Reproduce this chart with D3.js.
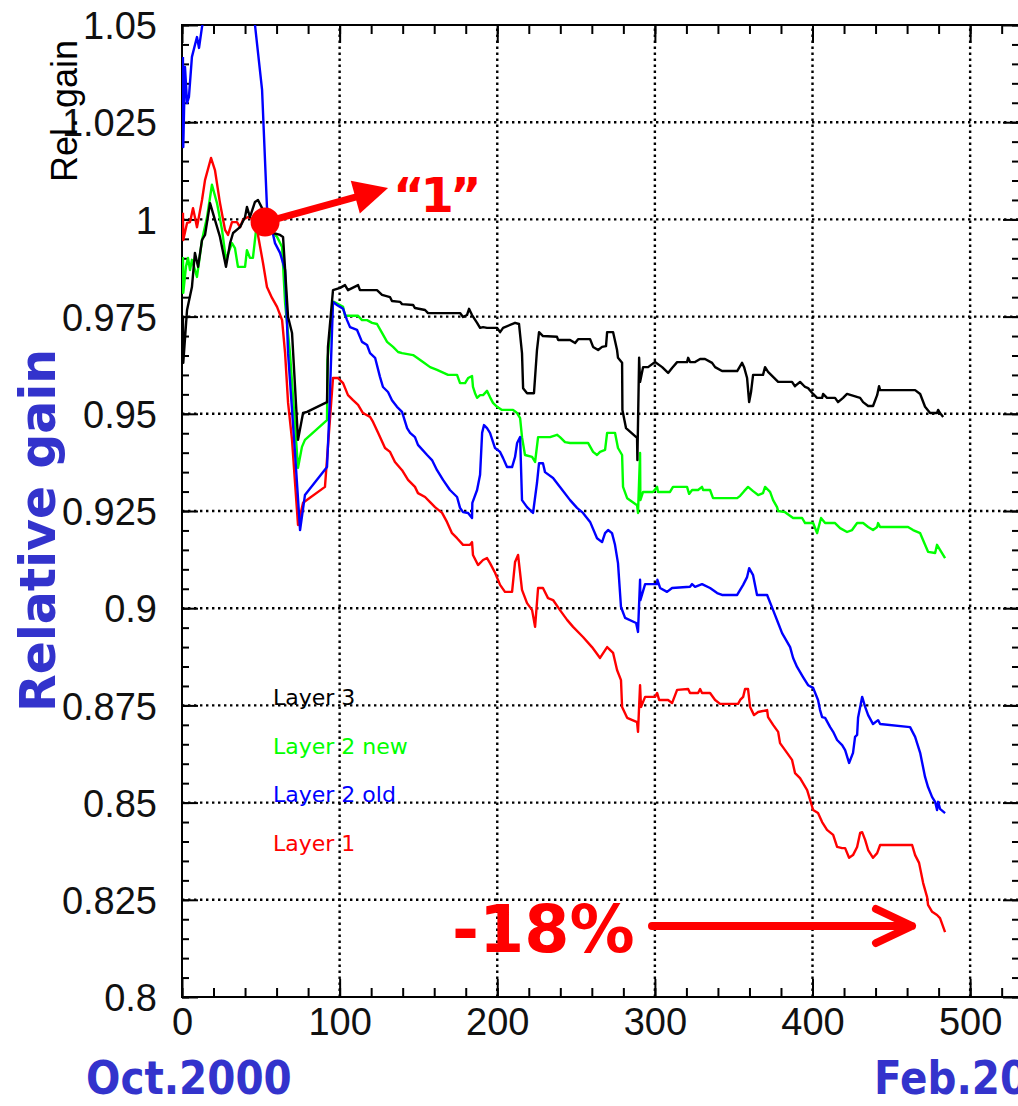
<!DOCTYPE html>
<html>
<head>
<meta charset="utf-8">
<script src="https://cdn.jsdelivr.net/npm/d3@7"></script>
<style>
  html, body { margin: 0; padding: 0; background: #fff; overflow: hidden; }
  svg { display: block; }
</style>
</head>
<body>
<svg id="chart" width="1018" height="1106"></svg>
<script>
// Relative gain of each detector layer versus days since Oct. 2000
const layer3 = [
  [0.6,0.9749],[0.8,0.9631],[3.2,0.9767],[6.3,0.9826],[8.2,0.9914],[10.2,0.9878],[12.7,0.9947],[14.6,0.9960],
  [17.8,1.0042],[20.9,0.9999],[24.1,0.9955],[27.9,0.9878],[30.5,0.9939],[32.4,0.9965],[36.8,0.9980],[40.0,1.0006],
  [41.2,1.0032],[43.1,1.0006],[46.3,1.0045],[48.2,1.0050],[50.8,1.0029],[57.7,0.9965],[62.2,0.9960],[64.1,0.9955],
  [67.3,0.9749],[69.8,0.9708],[73.6,0.9433],[76.8,0.9502],[79.3,0.9505],[92.0,0.9530],[92.6,0.9672],[95.8,0.9818],
  [100.3,0.9824],[103.4,0.9831],[105.3,0.9818],[111.7,0.9831],[112.9,0.9818],[123.7,0.9818],[126.9,0.9806],[132.0,0.9800],
  [133.2,0.9790],[138.3,0.9788],[139.6,0.9782],[146.6,0.9780],[147.8,0.9772],[154.2,0.9767],[156.1,0.9759],[176.4,0.9759],
  [178.3,0.9749],[180.8,0.9754],[182.1,0.9770],[184.0,0.9754],[187.2,0.9734],[189.1,0.9721],[191.0,0.9723],[193.5,0.9721],
  [199.9,0.9721],[201.8,0.9710],[203.7,0.9721],[211.3,0.9734],[213.8,0.9731],[215.7,0.9656],[216.4,0.9566],[218.9,0.9553],
  [223.3,0.9553],[225.2,0.9664],[226.5,0.9710],[229.0,0.9700],[237.9,0.9698],[238.6,0.9690],[246.2,0.9690],[249.4,0.9682],
  [251.3,0.9692],[258.9,0.9692],[260.8,0.9672],[264.0,0.9664],[266.5,0.9672],[269.0,0.9674],[269.7,0.9710],[273.5,0.9710],
  [276.0,0.9664],[276.6,0.9644],[279.2,0.9631],[279.4,0.9510],[281.7,0.9463],[288.7,0.9438],[288.9,0.9381],[290.0,0.9644],
  [290.6,0.9582],[292.5,0.9620],[295.7,0.9620],[300.1,0.9633],[304.6,0.9620],[308.4,0.9605],[310.9,0.9618],[314.1,0.9633],
  [320.4,0.9633],[321.1,0.9644],[322.3,0.9633],[325.5,0.9633],[328.7,0.9641],[331.8,0.9641],[336.3,0.9631],[338.2,0.9620],
  [342.6,0.9610],[352.2,0.9610],[355.3,0.9631],[356.6,0.9620],[358.5,0.9592],[359.8,0.9530],[361.0,0.9556],[362.3,0.9600],
  [368.6,0.9600],[369.9,0.9620],[371.8,0.9608],[375.0,0.9595],[378.2,0.9582],[387.0,0.9582],[388.9,0.9571],[392.1,0.9582],
  [395.3,0.9569],[397.2,0.9566],[400.4,0.9551],[402.9,0.9541],[406.1,0.9541],[406.7,0.9551],[409.2,0.9541],[414.3,0.9541],
  [416.2,0.9530],[419.4,0.9541],[421.9,0.9551],[430.2,0.9541],[432.1,0.9530],[435.3,0.9520],[438.4,0.9520],[441.0,0.9548],
  [442.2,0.9571],[442.9,0.9561],[465.1,0.9561],[468.3,0.9551],[471.4,0.9518],[474.6,0.9502],[479.0,0.9502],[479.7,0.9510],
  [480.9,0.9502],[482.9,0.9492]
];

const layer2New = [
  [0.6,0.9903],[0.8,0.9811],[2.5,0.9878],[3.8,0.9901],[5.1,0.9870],[6.3,0.9896],[9.5,0.9852],[12.7,0.9947],
  [15.9,1.0006],[19.0,1.0089],[22.2,1.0042],[25.4,0.9973],[27.9,0.9896],[31.7,0.9939],[33.6,0.9926],[35.5,0.9878],
  [40.0,0.9878],[41.2,0.9921],[43.1,0.9901],[45.0,0.9901],[47.0,0.9973],[48.2,1.0017],[52.7,0.9985],[60.3,0.9955],
  [63.5,0.9929],[65.4,0.9785],[68.5,0.9656],[73.6,0.9361],[76.1,0.9415],[78.0,0.9433],[92.0,0.9484],[92.3,0.9638],
  [95.8,0.9785],[96.4,0.9788],[102.2,0.9775],[103.4,0.9752],[111.7,0.9752],[114.2,0.9741],[117.4,0.9741],[120.6,0.9734],
  [123.7,0.9731],[126.9,0.9708],[130.1,0.9685],[133.9,0.9672],[137.1,0.9659],[139.6,0.9656],[146.6,0.9651],[149.1,0.9644],
  [152.9,0.9633],[157.4,0.9620],[161.8,0.9613],[168.8,0.9600],[174.5,0.9600],[176.4,0.9579],[179.6,0.9579],[181.5,0.9592],
  [184.0,0.9597],[184.6,0.9569],[185.9,0.9553],[187.2,0.9541],[189.1,0.9548],[191.0,0.9548],[193.5,0.9559],[195.4,0.9543],
  [197.3,0.9528],[199.9,0.9518],[203.0,0.9510],[210.0,0.9510],[212.6,0.9502],[214.5,0.9489],[215.7,0.9440],[217.6,0.9394],
  [222.1,0.9389],[224.0,0.9376],[225.9,0.9440],[233.5,0.9440],[237.9,0.9446],[239.8,0.9440],[243.0,0.9427],[246.2,0.9425],
  [257.6,0.9425],[260.8,0.9402],[263.3,0.9394],[265.2,0.9402],[268.4,0.9407],[269.7,0.9451],[274.7,0.9451],[276.6,0.9412],
  [279.2,0.9394],[279.8,0.9312],[282.4,0.9283],[288.7,0.9265],[289.3,0.9245],[290.6,0.9399],[290.8,0.9278],[292.5,0.9299],
  [298.8,0.9299],[301.4,0.9312],[302.0,0.9299],[309.6,0.9299],[311.5,0.9312],[320.4,0.9312],[321.7,0.9294],[323.6,0.9304],
  [327.4,0.9304],[329.9,0.9312],[330.6,0.9304],[335.0,0.9304],[336.9,0.9283],[352.2,0.9283],[354.1,0.9289],[356.6,0.9301],
  [359.1,0.9312],[362.3,0.9301],[365.5,0.9291],[368.6,0.9296],[369.9,0.9312],[373.1,0.9299],[375.0,0.9278],[377.5,0.9260],
  [378.2,0.9250],[382.6,0.9247],[387.7,0.9232],[393.4,0.9232],[395.3,0.9219],[400.4,0.9219],[402.9,0.9193],[405.4,0.9232],
  [408.0,0.9219],[414.3,0.9219],[417.5,0.9206],[421.9,0.9196],[425.1,0.9201],[428.3,0.9219],[432.1,0.9219],[435.3,0.9209],
  [438.4,0.9201],[441.0,0.9209],[441.6,0.9219],[442.9,0.9209],[460.6,0.9209],[463.8,0.9201],[468.3,0.9193],[471.4,0.9163],
  [473.3,0.9145],[477.8,0.9142],[479.0,0.9163],[480.9,0.9150],[484.1,0.9129]
];

const layer2Old = [
  [0.6,1.0418],[0.8,1.0186],[1.9,1.0392],[3.2,1.0299],[4.4,1.0315],[6.3,1.0418],[9.5,1.0469],[10.8,1.0441],
  [12.7,1.0495],[16.0,1.0560],[22.0,1.0620],[30.0,1.0580],[38.0,1.0660],[44.0,1.0600],[46.3,1.0500],[50.8,1.0333],
  [53.9,1.0032],[59.0,0.9939],[62.2,0.9914],[65.4,0.9870],[67.3,0.9656],[71.7,0.9399],[74.9,0.9201],[78.0,0.9291],
  [92.0,0.9363],[93.3,0.9484],[95.8,0.9788],[98.3,0.9780],[100.3,0.9775],[102.2,0.9770],[104.7,0.9741],[106.6,0.9723],
  [111.0,0.9716],[114.2,0.9685],[117.4,0.9677],[119.3,0.9656],[122.5,0.9644],[125.6,0.9595],[127.5,0.9569],[130.7,0.9556],
  [133.2,0.9535],[136.4,0.9518],[139.6,0.9505],[142.8,0.9463],[144.7,0.9451],[147.8,0.9440],[149.7,0.9420],[155.5,0.9394],
  [158.6,0.9381],[161.8,0.9355],[165.6,0.9330],[170.0,0.9304],[174.5,0.9286],[176.4,0.9258],[178.3,0.9247],[181.5,0.9245],
  [184.0,0.9232],[184.2,0.9271],[187.2,0.9304],[189.1,0.9343],[190.4,0.9451],[191.6,0.9471],[193.5,0.9463],[195.4,0.9451],
  [198.6,0.9412],[201.8,0.9402],[203.7,0.9386],[206.2,0.9363],[209.4,0.9363],[211.3,0.9389],[212.6,0.9425],[214.5,0.9440],
  [215.7,0.9278],[218.9,0.9260],[222.7,0.9245],[225.2,0.9322],[226.5,0.9373],[229.0,0.9373],[230.3,0.9350],[235.4,0.9335],
  [239.8,0.9312],[246.2,0.9278],[250.6,0.9258],[254.4,0.9245],[258.9,0.9222],[263.3,0.9180],[266.5,0.9170],[268.4,0.9193],
  [270.3,0.9201],[272.8,0.9193],[274.7,0.9163],[276.6,0.9116],[278.5,0.9003],[281.1,0.8975],[288.1,0.8962],[289.3,0.8939],
  [290.6,0.9073],[290.8,0.9021],[293.8,0.9062],[301.4,0.9062],[301.6,0.9073],[303.3,0.9052],[307.7,0.9042],[310.9,0.9052],
  [322.3,0.9055],[323.6,0.9062],[325.5,0.9055],[329.9,0.9062],[335.0,0.9052],[339.5,0.9039],[342.6,0.9034],[352.2,0.9034],
  [356.0,0.9060],[358.5,0.9080],[359.8,0.9103],[362.3,0.9085],[364.8,0.9034],[371.2,0.9034],[375.0,0.8995],[378.2,0.8962],
  [380.7,0.8936],[385.8,0.8900],[387.7,0.8872],[390.2,0.8849],[394.0,0.8823],[397.2,0.8802],[400.4,0.8795],[403.5,0.8764],
  [404.8,0.8738],[406.1,0.8720],[408.0,0.8718],[411.2,0.8694],[413.1,0.8682],[415.6,0.8661],[418.8,0.8648],[420.7,0.8635],
  [423.2,0.8602],[425.7,0.8628],[427.0,0.8669],[428.3,0.8674],[428.9,0.8718],[431.5,0.8772],[433.4,0.8746],[435.3,0.8725],
  [438.4,0.8702],[441.6,0.8712],[442.9,0.8702],[461.9,0.8694],[465.1,0.8669],[468.3,0.8628],[471.4,0.8566],[473.3,0.8540],
  [475.9,0.8514],[477.8,0.8502],[479.0,0.8481],[479.7,0.8502],[480.9,0.8484],[484.1,0.8473]
];

const layer1 = [
  [0.6,1.0017],[0.8,0.9947],[3.2,0.9991],[5.1,0.9993],[7.0,1.0029],[9.5,0.9980],[12.7,1.0050],[14.6,1.0101],
  [18.4,1.0158],[20.9,1.0127],[24.1,1.0042],[27.3,0.9973],[29.2,0.9960],[31.7,0.9993],[34.9,0.9993],[36.8,0.9980],
  [38.7,0.9999],[41.9,1.0006],[46.3,0.9999],[48.2,0.9960],[51.4,0.9888],[53.9,0.9826],[57.1,0.9798],[60.3,0.9775],
  [63.5,0.9741],[65.4,0.9656],[67.3,0.9528],[69.8,0.9433],[73.6,0.9214],[76.8,0.9271],[90.7,0.9312],[95.8,0.9592],
  [99.0,0.9592],[102.2,0.9579],[105.3,0.9548],[108.5,0.9535],[111.7,0.9523],[114.8,0.9502],[119.3,0.9492],[121.2,0.9479],
  [124.4,0.9451],[128.8,0.9412],[132.0,0.9402],[135.1,0.9376],[139.6,0.9355],[143.4,0.9330],[147.8,0.9312],[149.7,0.9296],
  [154.2,0.9286],[157.4,0.9273],[160.5,0.9260],[165.0,0.9245],[168.1,0.9222],[171.3,0.9193],[174.5,0.9180],[178.3,0.9163],
  [182.7,0.9163],[184.0,0.9170],[184.6,0.9137],[187.8,0.9111],[191.0,0.9124],[193.5,0.9129],[195.4,0.9116],[198.6,0.9091],
  [201.8,0.9060],[204.9,0.9042],[209.4,0.9042],[211.3,0.9119],[213.2,0.9137],[215.7,0.9047],[218.9,0.9013],[222.1,0.8995],
  [224.0,0.8952],[225.9,0.9052],[229.0,0.9052],[232.2,0.9026],[235.4,0.9021],[239.8,0.8995],[244.3,0.8970],[248.1,0.8952],
  [254.4,0.8926],[260.1,0.8900],[265.2,0.8872],[269.7,0.8900],[273.5,0.8885],[276.0,0.8841],[278.5,0.8815],[279.2,0.8746],
  [282.4,0.8718],[288.7,0.8707],[289.3,0.8682],[290.6,0.8802],[291.2,0.8746],[293.8,0.8772],[300.1,0.8772],[301.4,0.8782],
  [302.7,0.8764],[308.4,0.8764],[310.9,0.8756],[314.1,0.8790],[321.1,0.8792],[322.3,0.8782],[327.4,0.8782],[328.7,0.8792],
  [329.9,0.8782],[335.0,0.8782],[338.2,0.8764],[341.4,0.8754],[352.8,0.8754],[354.1,0.8764],[356.0,0.8772],[357.2,0.8792],
  [359.1,0.8792],[360.4,0.8746],[362.9,0.8725],[365.5,0.8733],[371.2,0.8738],[371.8,0.8720],[375.0,0.8700],[378.2,0.8682],
  [379.4,0.8653],[382.6,0.8635],[387.0,0.8610],[388.9,0.8576],[392.1,0.8563],[396.6,0.8532],[400.4,0.8481],[403.5,0.8473],
  [406.1,0.8450],[409.2,0.8430],[413.1,0.8417],[415.6,0.8386],[418.8,0.8383],[420.7,0.8383],[423.2,0.8358],[425.7,0.8365],
  [428.3,0.8386],[430.2,0.8422],[431.5,0.8424],[433.4,0.8404],[435.3,0.8378],[438.4,0.8358],[441.0,0.8370],[442.9,0.8391],
  [463.2,0.8391],[465.1,0.8365],[467.6,0.8345],[470.2,0.8293],[472.7,0.8257],[473.3,0.8237],[475.9,0.8219],[479.0,0.8211],
  [480.9,0.8203],[484.1,0.8167]
];

const seriesNames  = ["Layer 3", "Layer 2 new", "Layer 2 old", "Layer 1"];
const seriesData   = [layer3, layer2New, layer2Old, layer1];
const seriesColors = ["#000000", "#00ff00", "#0000ff", "#ff0000"];

const xTicks = [0, 100, 200, 300, 400, 500];
const xTickLabels = ["0", "100", "200", "300", "400", "500"];
const yTicks = [0.8, 0.825, 0.85, 0.875, 0.9, 0.925, 0.95, 0.975, 1, 1.025, 1.05];
const yTickLabels = ["0.8", "0.825", "0.85", "0.875", "0.9", "0.925", "0.95", "0.975", "1", "1.025", "1.05"];

// reference point where the gain is normalised to 1, and the final loss of Layer 1
const refDay = 52.7, refGain = 0.9993;
const lossLabel = "-18%";

const svg = d3.select("#chart");
const x = d3.scaleLinear().domain([0, 531]).range([182, 1019]);
const y = d3.scaleLinear().domain([0.8, 1.05]).range([997, 25]);

const xMinor = d3.range(0, 531, 20);
const yMinor = d3.range(0, 51).map(i => +(0.8 + i * 0.005).toFixed(3));

svg.append("rect").attr("width", 1018).attr("height", 1106).attr("fill", "#fff");

svg.append("defs").append("clipPath").attr("id", "plotClip")
  .append("rect").attr("x", x(0)).attr("y", y(1.05))
  .attr("width", x(531) - x(0)).attr("height", y(0.8) - y(1.05));

// dotted grid
const grid = svg.append("g").attr("stroke", "#000").attr("stroke-width", 2.4).attr("stroke-dasharray", "2.4,3.6");
grid.selectAll("line.h").data(yTicks.slice(1, -1)).join("line")
  .attr("x1", x(0)).attr("x2", x(531)).attr("y1", d => y(d)).attr("y2", d => y(d));
grid.selectAll("line.v").data(xTicks.slice(1)).join("line")
  .attr("x1", d => x(d)).attr("x2", d => x(d)).attr("y1", y(0.8)).attr("y2", y(1.05));

// axes (ticks point into the plot)
function styleAxis(g) {
  g.select(".domain").remove();
  g.selectAll(".tick line").attr("stroke", "#000").attr("stroke-width", 2);
  g.attr("font-family", "'Liberation Sans', Arial, sans-serif").attr("font-size", 38);
  g.selectAll(".tick text").attr("fill", "#111");
}
svg.append("g").attr("transform", `translate(0,${y(0.8)})`)
  .call(d3.axisBottom(x).tickValues(xMinor).tickFormat("").tickSizeInner(-9).tickSizeOuter(0)).call(styleAxis);
svg.append("g").attr("transform", `translate(0,${y(0.8)})`)
  .call(d3.axisBottom(x).tickValues(xTicks).tickFormat((d, i) => xTickLabels[i]).tickSizeInner(-18).tickSizeOuter(0).tickPadding(11))
  .call(styleAxis);
svg.append("g").attr("transform", `translate(0,${y(1.05)})`)
  .call(d3.axisTop(x).tickValues(xMinor).tickFormat("").tickSizeInner(-9).tickSizeOuter(0)).call(styleAxis);
svg.append("g").attr("transform", `translate(0,${y(1.05)})`)
  .call(d3.axisTop(x).tickValues(xTicks).tickFormat("").tickSizeInner(-18).tickSizeOuter(0)).call(styleAxis);
svg.append("g").attr("transform", `translate(${x(0)},0)`)
  .call(d3.axisLeft(y).tickValues(yMinor).tickFormat("").tickSizeInner(-7).tickSizeOuter(0)).call(styleAxis);
const yAxisG = svg.append("g").attr("transform", `translate(${x(0)},0)`)
  .call(d3.axisLeft(y).tickValues(yTicks).tickFormat((d, i) => yTickLabels[i]).tickSizeInner(-16).tickSizeOuter(0).tickPadding(25))
  .call(styleAxis);
yAxisG.selectAll(".tick text").attr("dy", "0.36em");
svg.append("g").attr("transform", `translate(${x(531)},0)`)
  .call(d3.axisRight(y).tickValues(yMinor).tickFormat("").tickSizeInner(-7).tickSizeOuter(0)).call(styleAxis);
svg.append("g").attr("transform", `translate(${x(531)},0)`)
  .call(d3.axisRight(y).tickValues(yTicks).tickFormat("").tickSizeInner(-16).tickSizeOuter(0)).call(styleAxis);

// frame
svg.append("rect").attr("x", x(0)).attr("y", y(1.05))
  .attr("width", x(531) - x(0)).attr("height", y(0.8) - y(1.05))
  .attr("fill", "none").attr("stroke", "#000").attr("stroke-width", 2);

// gain curves
const line = d3.line().x(d => x(d[0])).y(d => y(d[1]));
const drawOrder = [3, 1, 2, 0];
svg.append("g").attr("clip-path", "url(#plotClip)")
  .selectAll("path").data(drawOrder).join("path")
  .attr("d", i => line(seriesData[i]))
  .attr("fill", "none").attr("stroke", i => seriesColors[i])
  .attr("stroke-width", 2.4).attr("stroke-linejoin", "round");

// legend
svg.append("g").attr("font-family", "'DejaVu Sans', sans-serif").attr("font-size", 22)
  .selectAll("text").data(seriesNames).join("text")
  .attr("x", 273).attr("y", (d, i) => 705 + i * 48.5)
  .attr("fill", (d, i) => seriesColors[i]).text(d => d);

// axis titles
svg.append("text").attr("transform", "translate(55,712) rotate(-90)")
  .attr("font-family", "'DejaVu Sans', sans-serif").attr("font-weight", "bold").attr("font-size", 49)
  .attr("fill", "#3333cc").text("Relative gain");
svg.append("text").attr("transform", "translate(77,182) rotate(-90)")
  .attr("font-family", "'Liberation Sans', Arial, sans-serif").attr("font-size", 36)
  .attr("fill", "#000").text("Rel. gain");
svg.append("text").attr("transform", "translate(86,1094) scale(0.88,1)")
  .attr("font-family", "'DejaVu Sans', sans-serif").attr("font-weight", "bold").attr("font-size", 46)
  .attr("fill", "#3333cc").text("Oct.2000");
svg.append("text").attr("transform", "translate(874,1094) scale(0.88,1)")
  .attr("font-family", "'DejaVu Sans', sans-serif").attr("font-weight", "bold").attr("font-size", 46)
  .attr("fill", "#3333cc").text("Feb.2002");

// normalisation marker with arrow and label
const cx = x(refDay), cy = y(refGain);
const tipX = cx + 123, tipY = cy - 34;
const ang = Math.atan2(tipY - cy, tipX - cx);
const ux = Math.cos(ang), uy = Math.sin(ang), px = -uy, py = ux;
const baseX = tipX - 34 * ux, baseY = tipY - 34 * uy;
const ann = svg.append("g").attr("fill", "#ff0000").attr("stroke", "none");
ann.append("line").attr("x1", cx).attr("y1", cy).attr("x2", baseX + 2 * ux).attr("y2", baseY + 2 * uy)
  .attr("stroke", "#ff0000").attr("stroke-width", 7);
ann.append("path").attr("d",
  `M${tipX},${tipY}L${baseX + 17 * px},${baseY + 17 * py}L${baseX - 17 * px},${baseY - 17 * py}Z`);
ann.append("circle").attr("cx", cx).attr("cy", cy).attr("r", 14.5);
ann.append("text").attr("x", 393).attr("y", 212)
  .attr("font-family", "'DejaVu Sans', sans-serif").attr("font-weight", "bold").attr("font-size", 48)
  .attr("letter-spacing", -4)
  .text("\u201C1\u201D");

// total loss annotation
ann.append("text").attr("x", 452).attr("y", 952)
  .attr("font-family", "'DejaVu Sans', sans-serif").attr("font-weight", "bold").attr("font-size", 65)
  .text(lossLabel);
const arrowY = 926, arrowX0 = 652, arrowX1 = 912;
ann.append("path")
  .attr("d", `M${arrowX0},${arrowY}H${arrowX1}M${arrowX1 - 36},${arrowY - 17}L${arrowX1},${arrowY}L${arrowX1 - 36},${arrowY + 17}`)
  .attr("fill", "none").attr("stroke", "#ff0000").attr("stroke-width", 8)
  .attr("stroke-linecap", "round").attr("stroke-linejoin", "round");
</script>
</body>
</html>
